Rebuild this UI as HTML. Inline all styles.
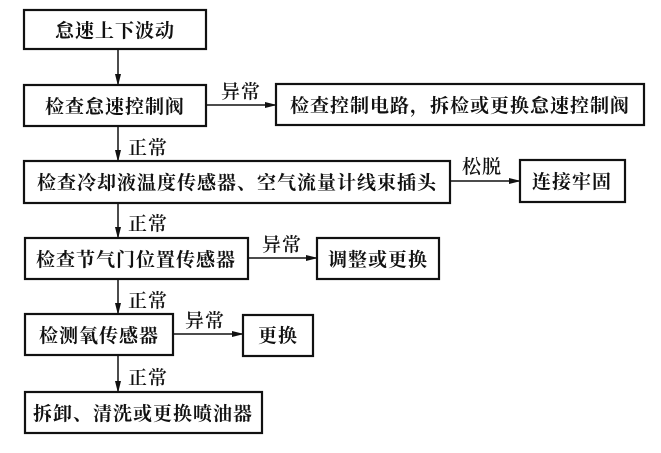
<!DOCTYPE html>
<html><head><meta charset="utf-8"><style>
html,body{margin:0;padding:0;background:#fff;}
svg text{font-family:"Liberation Serif","Noto Serif CJK SC",serif;font-size:19px;letter-spacing:1px;font-weight:bold;fill:#111;}
svg text.l{font-weight:600;}
</style></head><body>
<svg width="661" height="448" viewBox="0 0 661 448" xmlns="http://www.w3.org/2000/svg">
<defs><marker id="a" markerWidth="12" markerHeight="8" refX="11" refY="4" orient="auto" markerUnits="userSpaceOnUse"><path d="M0,1 L12,4 L0,7 Z" fill="#111"/></marker></defs>
<g fill="none" stroke="#111" stroke-width="2.2">
<rect x="24" y="10" width="182" height="39"/>
<rect x="24" y="85" width="182" height="41"/>
<rect x="276" y="84" width="368" height="41"/>
<rect x="24" y="161" width="426" height="42"/>
<rect x="520" y="160" width="105" height="42"/>
<rect x="25" y="238" width="223" height="41"/>
<rect x="317" y="238" width="122" height="41"/>
<rect x="25" y="314" width="148" height="41"/>
<rect x="243" y="315" width="70" height="41"/>
<rect x="25" y="392" width="237" height="41"/>
</g>
<g stroke="#111" stroke-width="1.5" marker-end="url(#a)">
<line x1="118" y1="49" x2="118" y2="85"/>
<line x1="118" y1="126" x2="118" y2="161"/>
<line x1="118" y1="203" x2="118" y2="238"/>
<line x1="118" y1="279" x2="118" y2="314"/>
<line x1="118" y1="355" x2="118" y2="392"/>
<line x1="206" y1="105" x2="276" y2="105"/>
<line x1="450" y1="181" x2="520" y2="181"/>
<line x1="248" y1="258" x2="317" y2="258"/>
<line x1="173" y1="334" x2="243" y2="334"/>
</g>
<text x="115" y="37" text-anchor="middle">怠速上下波动</text>
<text x="115" y="113" text-anchor="middle">检查怠速控制阀</text>
<text x="460" y="112" text-anchor="middle">检查控制电路，拆检或更换怠速控制阀</text>
<text x="237" y="189" text-anchor="middle">检查冷却液温度传感器、空气流量计线束插头</text>
<text x="572" y="188" text-anchor="middle">连接牢固</text>
<text x="136" y="266" text-anchor="middle">检查节气门位置传感器</text>
<text x="378" y="266" text-anchor="middle">调整或更换</text>
<text x="99" y="342" text-anchor="middle">检测氧传感器</text>
<text x="278" y="342" text-anchor="middle">更换</text>
<text x="143" y="420" text-anchor="middle">拆卸、清洗或更换喷油器</text>
<text class="l" x="221" y="98">异常</text>
<text class="l" x="462" y="173">松脱</text>
<text class="l" x="262" y="251">异常</text>
<text class="l" x="185" y="327">异常</text>
<text class="l" x="128" y="154">正常</text>
<text class="l" x="128" y="230">正常</text>
<text class="l" x="128" y="307">正常</text>
<text class="l" x="128" y="384">正常</text>
</svg>
</body></html>
